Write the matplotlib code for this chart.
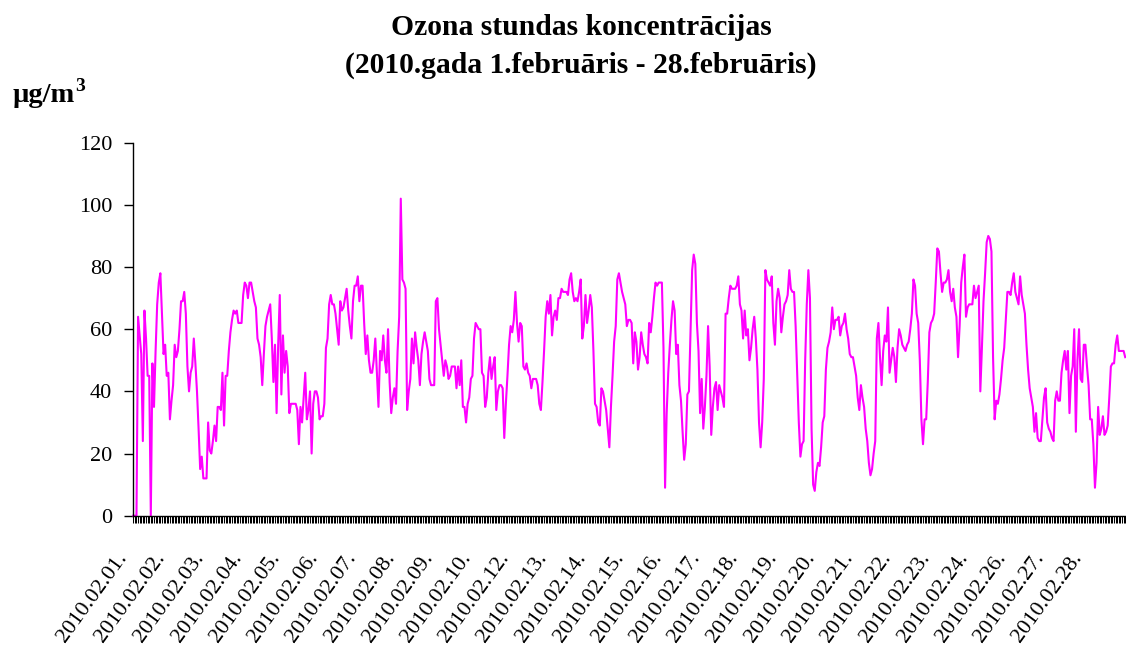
import matplotlib
matplotlib.use("Agg")
import matplotlib.pyplot as plt
from matplotlib.transforms import ScaledTranslation
import numpy as np

# dates shown on the category axis (11th and 25th have no data)
day_labels = ["01", "02", "03", "04", "05", "06", "07", "08", "09", "10",
              "12", "13", "14", "15", "16", "17", "18", "19", "20", "21",
              "22", "23", "24", "26", "27", "28"]
tick_labels = [f"2010.02.{d}." for d in day_labels]
hours_per_day = 24
y_ticks = [0, 20, 40, 60, 80, 100, 120]

# hourly ozone, ug/m3, one row per day
ozone = [
    0, 0, 0, 64, 58, 52, 24, 66, 57, 45, 45, 0, 49, 35, 53, 68, 75, 78, 65, 52, 55, 45, 46, 31,       # 01
    37, 42, 55, 51, 53, 60, 69, 69, 72, 65, 48, 40, 46, 48, 57, 49, 40, 28, 15, 19, 12, 12, 12, 30,   # 02
    21, 20, 24, 29, 24, 35, 35, 34, 46, 29, 45, 45, 53, 59, 63, 66, 65, 66, 62, 62, 62, 71, 75, 74,   # 03
    70, 75, 75, 72, 69, 67, 57, 55, 51, 42, 52, 61, 64, 66, 68, 57, 43, 55, 33, 55, 71, 39, 58, 46,   # 04
    53, 48, 33, 36, 36, 36, 36, 34, 23, 35, 30, 38, 46, 31, 34, 40, 20, 36, 40, 40, 38, 31, 32, 32,   # 05
    36, 54, 57, 68, 71, 68, 68, 65, 60, 55, 69, 66, 67, 70, 73, 66, 61, 57, 69, 74, 74, 77, 69, 74,   # 06
    74, 62, 52, 58, 50, 46, 46, 50, 57, 46, 35, 53, 50, 58, 50, 46, 60, 43, 33, 38, 41, 36, 53, 64,   # 07
    102, 76, 75, 73, 34, 40, 44, 57, 49, 59, 54, 50, 42, 52, 56, 59, 56, 53, 44, 42, 42, 42, 69, 70,  # 08
    60, 55, 50, 45, 50, 48, 44, 45, 48, 48, 48, 41, 48, 42, 50, 35, 35, 30, 36, 38, 44, 45, 57, 62,   # 09
    61, 60, 60, 46, 45, 35, 38, 46, 51, 44, 48, 51, 34, 40, 42, 42, 41, 25, 36, 45, 55, 61, 59, 63,   # 10
    72, 62, 56, 62, 61, 48, 47, 49, 46, 45, 41, 44, 44, 44, 42, 36, 34, 43, 53, 64, 69, 65, 71, 58,   # 12
    64, 66, 63, 70, 70, 73, 72, 72, 72, 71, 76, 78, 72, 69, 70, 69, 72, 76, 57, 61, 71, 62, 66, 71,   # 13
    67, 53, 36, 35, 30, 29, 41, 40, 37, 34, 28, 22, 35, 45, 56, 61, 76, 78, 75, 72, 70, 68, 61, 63,   # 14
    63, 62, 49, 59, 56, 47, 51, 59, 55, 52, 51, 49, 62, 59, 64, 70, 75, 74, 75, 75, 75, 54, 9, 33,    # 15
    46, 55, 63, 69, 66, 52, 55, 42, 37, 27, 18, 23, 39, 40, 60, 79, 84, 81, 62, 53, 33, 44, 28, 35,   # 16
    45, 61, 48, 26, 35, 41, 43, 34, 42, 40, 38, 35, 65, 65, 70, 74, 73, 73, 73, 74, 77, 68, 66, 57,   # 17
    66, 58, 60, 50, 54, 60, 64, 57, 47, 30, 22, 30, 44, 79, 76, 75, 74, 77, 62, 55, 69, 73, 70, 59,   # 18
    64, 68, 69, 71, 79, 73, 72, 72, 61, 45, 30, 19, 23, 24, 50, 68, 79, 70, 28, 10, 8, 14, 17, 16,    # 19
    22, 30, 32, 47, 54, 56, 59, 67, 60, 63, 63, 64, 58, 61, 62, 65, 60, 57, 52, 51, 51, 48, 45, 38,   # 20
    34, 42, 38, 35, 28, 24, 17, 13, 15, 20, 24, 57, 62, 51, 42, 53, 58, 56, 67, 46, 50, 54, 51, 43,   # 21
    54, 60, 58, 55, 54, 53, 55, 56, 60, 65, 76, 74, 65, 62, 50, 31, 23, 31, 31, 43, 59, 62, 63, 65,   # 22
    75, 86, 85, 78, 72, 75, 75, 76, 79, 72, 69, 73, 67, 64, 51, 61, 75, 80, 84, 64, 67, 68, 68, 68,   # 23
    74, 70, 72, 74, 40, 54, 69, 78, 88, 90, 89, 85, 51, 31, 37, 36, 39, 44, 50, 54, 63, 72, 72, 71,   # 24
    75, 78, 72, 70, 68, 77, 71, 68, 65, 55, 47, 41, 38, 35, 27, 33, 25, 24, 24, 31, 38, 41, 30, 28,   # 26
    27, 25, 24, 37, 40, 37, 37, 46, 50, 53, 47, 53, 33, 45, 48, 60, 27, 50, 60, 44, 43, 55, 55, 48,   # 27
    42, 31, 31, 23, 9, 17, 35, 26, 28, 32, 26, 27, 29, 38, 48, 49, 49, 55, 58, 53, 53, 53, 53, 51,    # 28
]

plt.rcParams['font.family'] = ['Liberation Serif', 'DejaVu Serif']

W, H = 1126, 646
fig = plt.figure(figsize=(W / 100, H / 100), dpi=100)
ax = fig.add_axes([132.5 / W, 1 - 515.7 / H, (W - 132.5) / W, (515.7 - 142.7) / H])

x = np.arange(len(ozone))
ax.plot(x, ozone, color='#FF00FF', lw=1.5, clip_on=False)

ax.set_xlim(-0.5, len(ozone) - 0.5)
ax.set_ylim(0, 120)
ax.set_yticks(y_ticks)
ax.spines[['top', 'right']].set_visible(False)
for s in ['left', 'bottom']:
    ax.spines[s].set_linewidth(1.0)
    ax.spines[s].set_color('black')

# every hour gets a tick mark, one label per day
ax.set_xticks(x, minor=True)
ax.set_xticks(x[::hours_per_day])
ax.set_xticklabels(tick_labels, rotation=54, ha='right', va='baseline',
                   rotation_mode='anchor')
ax.tick_params(axis='x', which='both', direction='out', length=4.8, width=0.75,
               color='black')
ax.tick_params(axis='x', which='major', pad=25, labelsize=16)
ax.tick_params(axis='y', direction='out', length=6.5, width=1.0, pad=8,
               labelsize=16)

shift = ScaledTranslation(-6 / 100, 0, fig.dpi_scale_trans)
for lbl in ax.get_xticklabels():
    lbl.set_transform(lbl.get_transform() + shift)

# titles and unit
fig.text(581 / W, 1 - 35 / H, "Ozona stundas koncentrācijas",
         ha='center', va='baseline', fontsize=21.3, fontweight='bold')
fig.text(581 / W, 1 - 73 / H, "(2010.gada 1.februāris - 28.februāris)",
         ha='center', va='baseline', fontsize=21.3, fontweight='bold')
fig.text(12.7 / W, 1 - 101.7 / H, "µg/m",
         ha='left', va='baseline', fontsize=20.5, fontweight='bold')
fig.text(75.5 / W, 1 - 91 / H, "3",
         ha='left', va='baseline', fontsize=14, fontweight='bold')

fig.savefig("out.png", dpi=100)
